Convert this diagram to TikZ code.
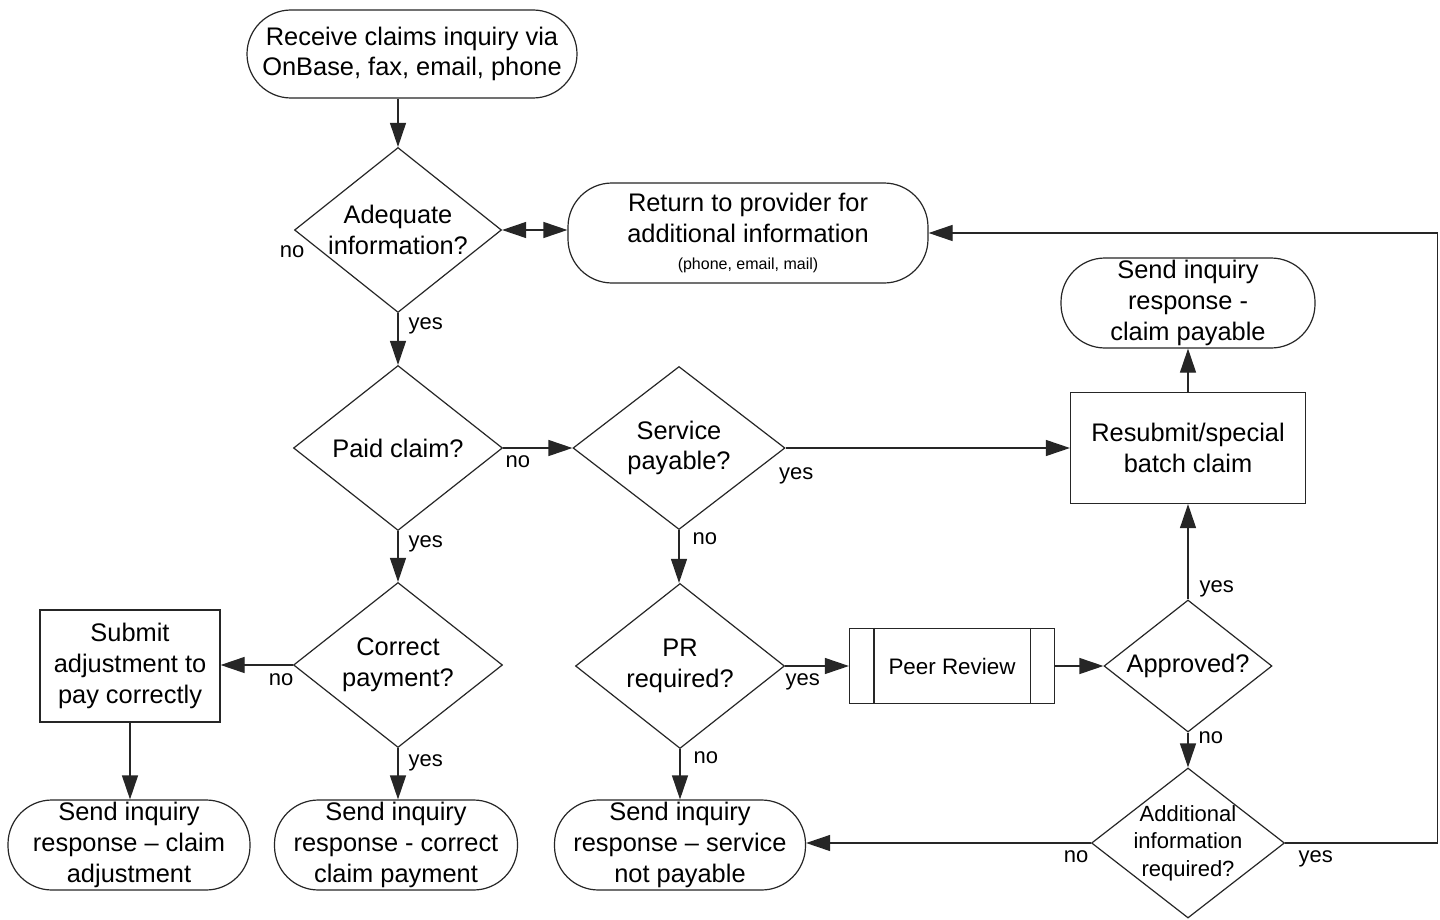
\documentclass[tikz,border=0pt]{standalone}
\usepackage{fontspec}
\setmainfont{Liberation Sans}
\usetikzlibrary{shapes.geometric}
\usetikzlibrary{arrows.meta}

\begin{document}
\begin{tikzpicture}[x=0.5pt, y=-0.5pt,
    every node/.style={draw=black!85, line width=0.6pt, align=center, font=\fontsize{12.7}{15.4}\selectfont},
    term/.style={rectangle, rounded corners=22pt, minimum height=45pt, inner sep=1pt},
    decision/.style={diamond, inner sep=-6pt},
    proc/.style={rectangle},
    lbl/.style={draw=none, inner sep=1pt, font=\fontsize{11}{13}\selectfont},
    arr/.style={draw=black!85, line width=0.6pt, -{Triangle[length=12pt, width=8pt]}},
    dblarr/.style={draw=black!85, line width=0.6pt, {Triangle[length=12pt, width=8pt]}-{Triangle[length=12pt, width=8pt]}}]

    \useasboundingbox[fill=white] (0,0) rectangle (1440,920);

    \node[term, minimum width=165pt, minimum height=44pt] (start) at (412,54) {Receive claims inquiry via\\OnBase, fax, email, phone};

    \node[decision, minimum width=103.5pt, minimum height=82.5pt] (adequate) at (398,230) {Adequate\\information?};
    \node[term, minimum width=180pt, minimum height=50pt] (return) at (748,233) {Return to provider for\\additional information\\[-2pt]{\fontsize{8}{9}\selectfont (phone, email, mail)}};
    \node[lbl] (noinfo) at (292,252) {no};

    \node[decision, minimum width=104.5pt, minimum height=82.5pt] (paid) at (398,448) {Paid claim?};
    \node[decision, minimum width=106pt, minimum height=81.5pt] (service) at (679,448) {Service\\payable?};
    \node[proc, minimum width=117.5pt, minimum height=55.5pt] (resubmit) at (1188,448) {Resubmit/special\\batch claim};
    \node[term, minimum width=127pt] (payable) at (1188,303) {Send inquiry\\response -\\claim payable};

    \node[decision, minimum width=104.5pt, minimum height=82.5pt] (correct) at (398,665) {Correct\\payment?};
    \node[proc, minimum width=90pt, minimum height=56pt] (submit) at (130,666) {Submit\\adjustment to\\pay correctly};
    \node[decision, minimum width=104.5pt, minimum height=82.5pt] (pr) at (680,666) {PR\\required?};
    \node[proc, minimum width=102.5pt, minimum height=37.5pt, font=\fontsize{11.2}{13}\selectfont] (peer) at (952,666) {Peer Review};
    \node[decision, minimum width=84pt, minimum height=66pt] (approved) at (1188,666) {Approved?};

    \node[term, minimum width=121pt] (adjust) at (129,845) {Send inquiry\\response – claim\\adjustment};
    \node[term, minimum width=121.5pt] (correctpay) at (396,845) {Send inquiry\\response - correct\\claim payment};
    \node[term, minimum width=125.5pt] (notpay) at (680,845) {Send inquiry\\response – service\\not payable};
    \node[decision, minimum width=96.5pt, minimum height=75pt, font=\fontsize{11}{13.75}\selectfont] (addinfo) at (1188,843) {Additional\\information\\required?};

    % predefined process bars
    \draw[draw=black!85, line width=0.6pt] ([xshift=12.5pt]peer.north west) -- ([xshift=12.5pt]peer.south west);
    \draw[draw=black!85, line width=0.6pt] ([xshift=-12.5pt]peer.north east) -- ([xshift=-12.5pt]peer.south east);

    \draw[arr] (start.south -| adequate.north) -- (adequate.north);
    \draw[dblarr] (adequate.east) -- (adequate.east -| return.west);
    \draw[arr] (adequate.south) -- node[lbl, pos=0, anchor=north west, xshift=4pt, yshift=-1pt] {yes} (paid.north);

    \draw[arr] (paid.east) -- node[lbl, pos=0, anchor=north west, yshift=-2.5pt] {no} (service.west);
    \draw[arr] (service.east) -- node[lbl, pos=0, anchor=north west, xshift=-4.5pt, yshift=-8.5pt] {yes} (resubmit.west);
    \draw[arr] (resubmit.north) -- (resubmit.north |- payable.south);

    \draw[arr] (paid.south) -- node[lbl, pos=0, anchor=north west, xshift=4pt, yshift=-1pt] {yes} (correct.north);
    \draw[arr] (correct.west) -- node[lbl, pos=0, anchor=north east, xshift=1.5pt, yshift=-3pt] {no} (correct.west -| submit.east);
    \draw[arr] (submit.south) -- (submit.south |- adjust.north);
    \draw[arr] (correct.south) -- node[lbl, pos=0, anchor=north west, xshift=4pt, yshift=-2pt] {yes} (correct.south |- correctpay.north);

    \draw[arr] (service.south) -- node[lbl, pos=0, anchor=north west, xshift=5.5pt] {no} (service.south |- pr.north);
    \draw[arr] (pr.east) -- node[lbl, pos=0, anchor=north west, xshift=-1pt, yshift=-2.5pt] {yes} (peer.west);
    \draw[arr] (pr.south) -- node[lbl, pos=0, anchor=north west, xshift=5.5pt] {no} (pr.south |- notpay.north);
    \draw[arr] (peer.east) -- (approved.west);

    \draw[arr] (approved.north) -- node[lbl, pos=0, anchor=south west, xshift=4.5pt] {yes} (approved.north |- resubmit.south);
    \draw[arr] (approved.south) -- node[lbl, pos=0, anchor=north west, xshift=4pt, yshift=2pt] {no} (addinfo.north);
    \draw[arr] (addinfo.west) -- node[lbl, pos=0, anchor=north east, yshift=-2.5pt] {no} (addinfo.west -| notpay.east);
    \draw[arr] (addinfo.east) -- node[lbl, pos=0, anchor=north west, xshift=5.5pt, yshift=-2.5pt] {yes} ++(76pt,0) |- (return.east);

\end{tikzpicture}
\end{document}
